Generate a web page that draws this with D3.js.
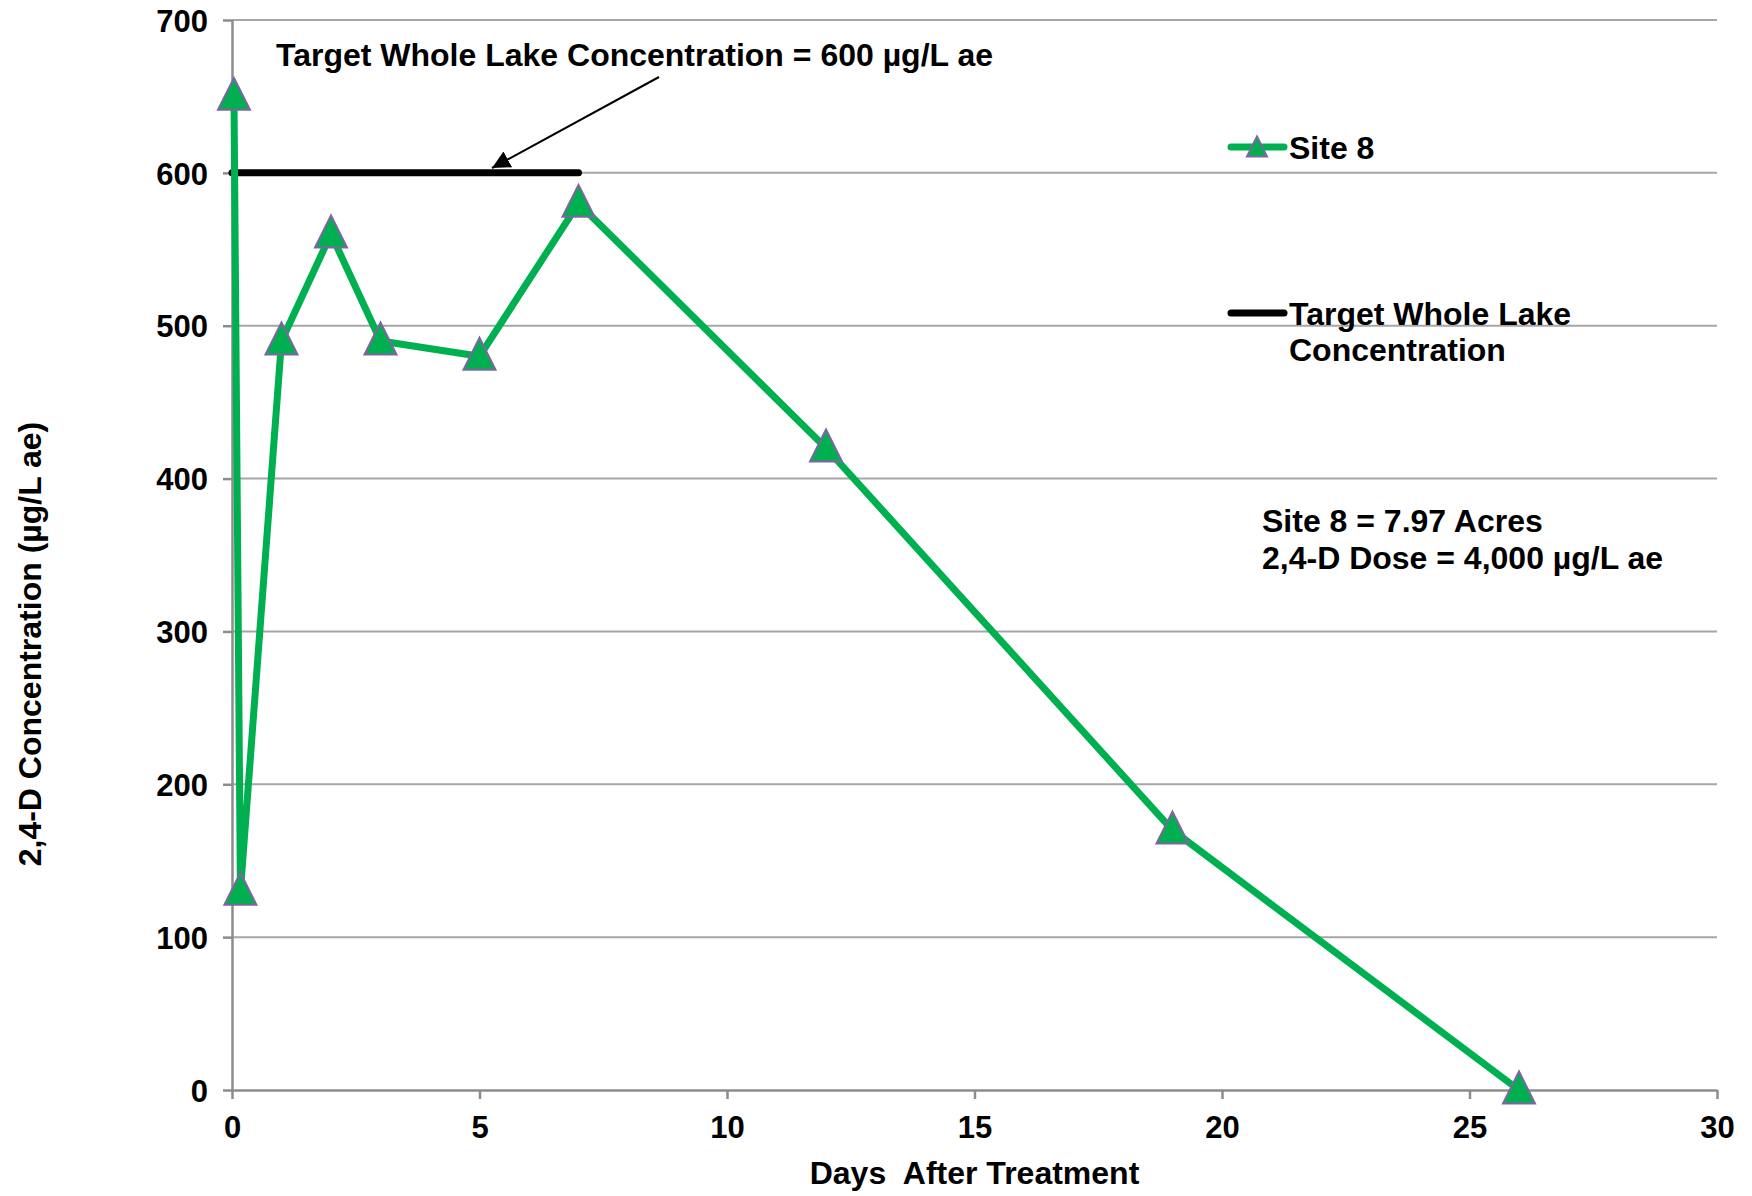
<!DOCTYPE html>
<html lang="en">
<head>
    <meta charset="UTF-8">
    <title>Site 8 2,4-D</title>
    <script src="https://d3js.org/d3.v7.min.js"></script>
</head>
<style>
    html,body { margin: 0; padding: 0; background: #fff; }
    text { font-family: "Liberation Sans", Arial, sans-serif; font-weight: bold; fill: #000; }
</style>
<body>
    <div id="svg"></div>
</body>
<script>
    // data
    const days = [0.04, 0.17, 1, 2, 3, 5, 7, 12, 19, 26];
    const site8 = [650, 130, 490, 560, 490, 480, 580, 420, 170, 0];
    const targetDays = [0, 7];
    const targetValue = [600, 600];
    const xTicks = [0, 5, 10, 15, 20, 25, 30];
    const yTicks = [0, 100, 200, 300, 400, 500, 600, 700];

    const width = 1752, height = 1196;
    const margin = {top: 20, right: 35, bottom: 106, left: 232};

    const svg = d3.select('#svg').append('svg')
        .attr('width', width)
        .attr('height', height);

    const x = d3.scaleLinear().domain([0, 30]).range([margin.left, width - margin.right]);
    const y = d3.scaleLinear().domain([0, 700]).range([height - margin.bottom, margin.top]);

    const green = '#00b050', purple = '#8064a2', grey = '#8c8c8c';

    // gridlines
    svg.append('g').selectAll('line').data(yTicks.filter(d => d > 0)).enter().append('line')
        .attr('x1', x(0)).attr('x2', x(30))
        .attr('y1', d => y(d)).attr('y2', d => y(d))
        .attr('stroke', '#a6a6a6').attr('stroke-width', 2);

    // axes
    const xAxis = svg.append('g')
        .attr('transform', `translate(0,${y(0)})`)
        .call(d3.axisBottom(x).tickValues(xTicks).tickSize(9).tickPadding(17).tickSizeOuter(0));
    const yAxis = svg.append('g')
        .attr('transform', `translate(${x(0)},0)`)
        .call(d3.axisLeft(y).tickValues(yTicks).tickSize(9).tickPadding(15).tickSizeOuter(0));
    [xAxis, yAxis].forEach(a => {
        a.attr('font-family', null);
        a.select('.domain').attr('stroke', grey).attr('stroke-width', 2.5);
        a.selectAll('.tick line').attr('stroke', grey).attr('stroke-width', 2.5);
        a.selectAll('.tick text').attr('font-size', 31).attr('fill', '#000');
    });
    yAxis.selectAll('.tick text').attr('dy', '0.36em');

    // target line
    const pts = targetDays.map((d, i) => [d, targetValue[i]]);
    svg.append('path')
        .attr('d', d3.line().x(d => x(d[0])).y(d => y(d[1]))(pts))
        .attr('fill', 'none').attr('stroke', '#000').attr('stroke-width', 7)
        .attr('stroke-linecap', 'round');

    // site 8 line
    const data = days.map((d, i) => [d, site8[i]]);
    svg.append('path')
        .attr('d', d3.line().x(d => x(d[0])).y(d => y(d[1]))(data))
        .attr('fill', 'none').attr('stroke', green).attr('stroke-width', 7)
        .attr('stroke-linejoin', 'round');

    const tri = (w) => `M0,${-w * 0.58}L${w / 2},${w * 0.42}L${-w / 2},${w * 0.42}Z`;
    svg.append('g').selectAll('path').data(data).enter().append('path')
        .attr('d', tri(32))
        .attr('transform', d => `translate(${x(d[0])},${y(d[1])})`)
        .attr('fill', green).attr('stroke', purple).attr('stroke-width', 2);

    // annotation with arrow
    svg.append('defs').append('marker')
        .attr('id', 'arrow').attr('viewBox', '0 0 10 10')
        .attr('refX', 10).attr('refY', 5)
        .attr('markerWidth', 9).attr('markerHeight', 9)
        .attr('orient', 'auto')
        .append('path').attr('d', 'M0,0L10,5L0,10Z').attr('fill', '#000');
    svg.append('line')
        .attr('x1', 659).attr('y1', 77).attr('x2', 492).attr('y2', 168)
        .attr('stroke', '#000').attr('stroke-width', 2)
        .attr('marker-end', 'url(#arrow)');
    svg.append('text').attr('x', 276).attr('y', 66).attr('font-size', 32)
        .text('Target Whole Lake Concentration = 600 µg/L ae');

    // legend
    const lg = svg.append('g');
    lg.append('line').attr('x1', 1231).attr('x2', 1284).attr('y1', 147).attr('y2', 147)
        .attr('stroke', green).attr('stroke-width', 7).attr('stroke-linecap', 'round');
    lg.append('path').attr('d', tri(20)).attr('transform', 'translate(1257,148)')
        .attr('fill', green).attr('stroke', purple).attr('stroke-width', 2);
    lg.append('text').attr('x', 1289).attr('y', 159).attr('font-size', 32).text('Site 8');
    lg.append('line').attr('x1', 1231).attr('x2', 1284).attr('y1', 313).attr('y2', 313)
        .attr('stroke', '#000').attr('stroke-width', 7).attr('stroke-linecap', 'round');
    lg.append('text').attr('x', 1289).attr('y', 325).attr('font-size', 32).text('Target Whole Lake');
    lg.append('text').attr('x', 1289).attr('y', 361).attr('font-size', 32).text('Concentration');

    // site note
    svg.append('text').attr('x', 1262).attr('y', 532).attr('font-size', 32).text('Site 8 = 7.97 Acres');
    svg.append('text').attr('x', 1262).attr('y', 569).attr('font-size', 32).text('2,4-D Dose = 4,000 µg/L ae');

    // axis titles
    svg.append('text').attr('x', x(15)).attr('y', 1184).attr('font-size', 32)
        .attr('text-anchor', 'middle').text('Days  After Treatment').style('white-space', 'pre');
    svg.append('text').attr('transform', 'translate(41,644) rotate(-90)').attr('font-size', 32)
        .attr('text-anchor', 'middle').text('2,4-D Concentration (µg/L ae)');
</script>
</html>
